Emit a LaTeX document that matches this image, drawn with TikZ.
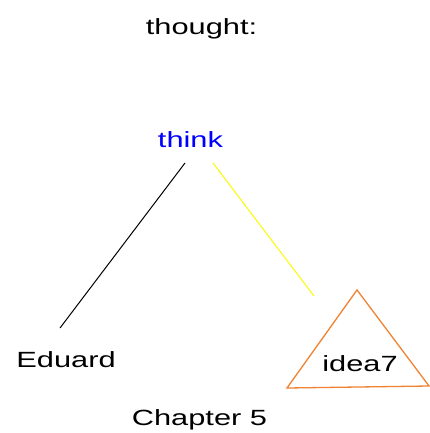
\documentclass[tikz,border=0pt]{standalone}
\usepackage{fontspec}
\setmainfont{Liberation Sans}[FakeStretch=1.4]
\definecolor{triorange}{RGB}{240,130,50}
\definecolor{lineyellow}{RGB}{250,250,0}
\begin{document}
\begin{tikzpicture}[x=1pt,y=-1pt,
  lbl/.style={inner sep=0pt,anchor=base,font=\fontsize{22}{26}\selectfont},
  edge/.style={line width=1pt}]
\useasboundingbox (0,0) rectangle (430,433);
\node[lbl] (title) at (201.5,35) {thought:};
\node[lbl,text={rgb,255:red,0;green,0;blue,255}] (think) at (190.5,147) {think};
\node[lbl] (eduard) at (66,367) {Eduard};
\node[lbl] (chapter) at (199.5,425) {Chapter 5};
\coordinate (apex) at (357,290);
\coordinate (bl) at (287,388);
\coordinate (br) at (429,386);
\draw[triorange,line width=1.3pt,line join=miter] (apex) -- (bl) -- (br) -- cycle;
\node[lbl] (idea) at (360,371) {idea7};
\coordinate (bstart) at (185,163);
\coordinate (bend) at (60,328);
\coordinate (ystart) at (213,163);
\coordinate (yend) at (314,296);
\draw[edge,black] (bstart) -- (bend);
\draw[edge,lineyellow] (ystart) -- (yend);
\end{tikzpicture}
\end{document}
